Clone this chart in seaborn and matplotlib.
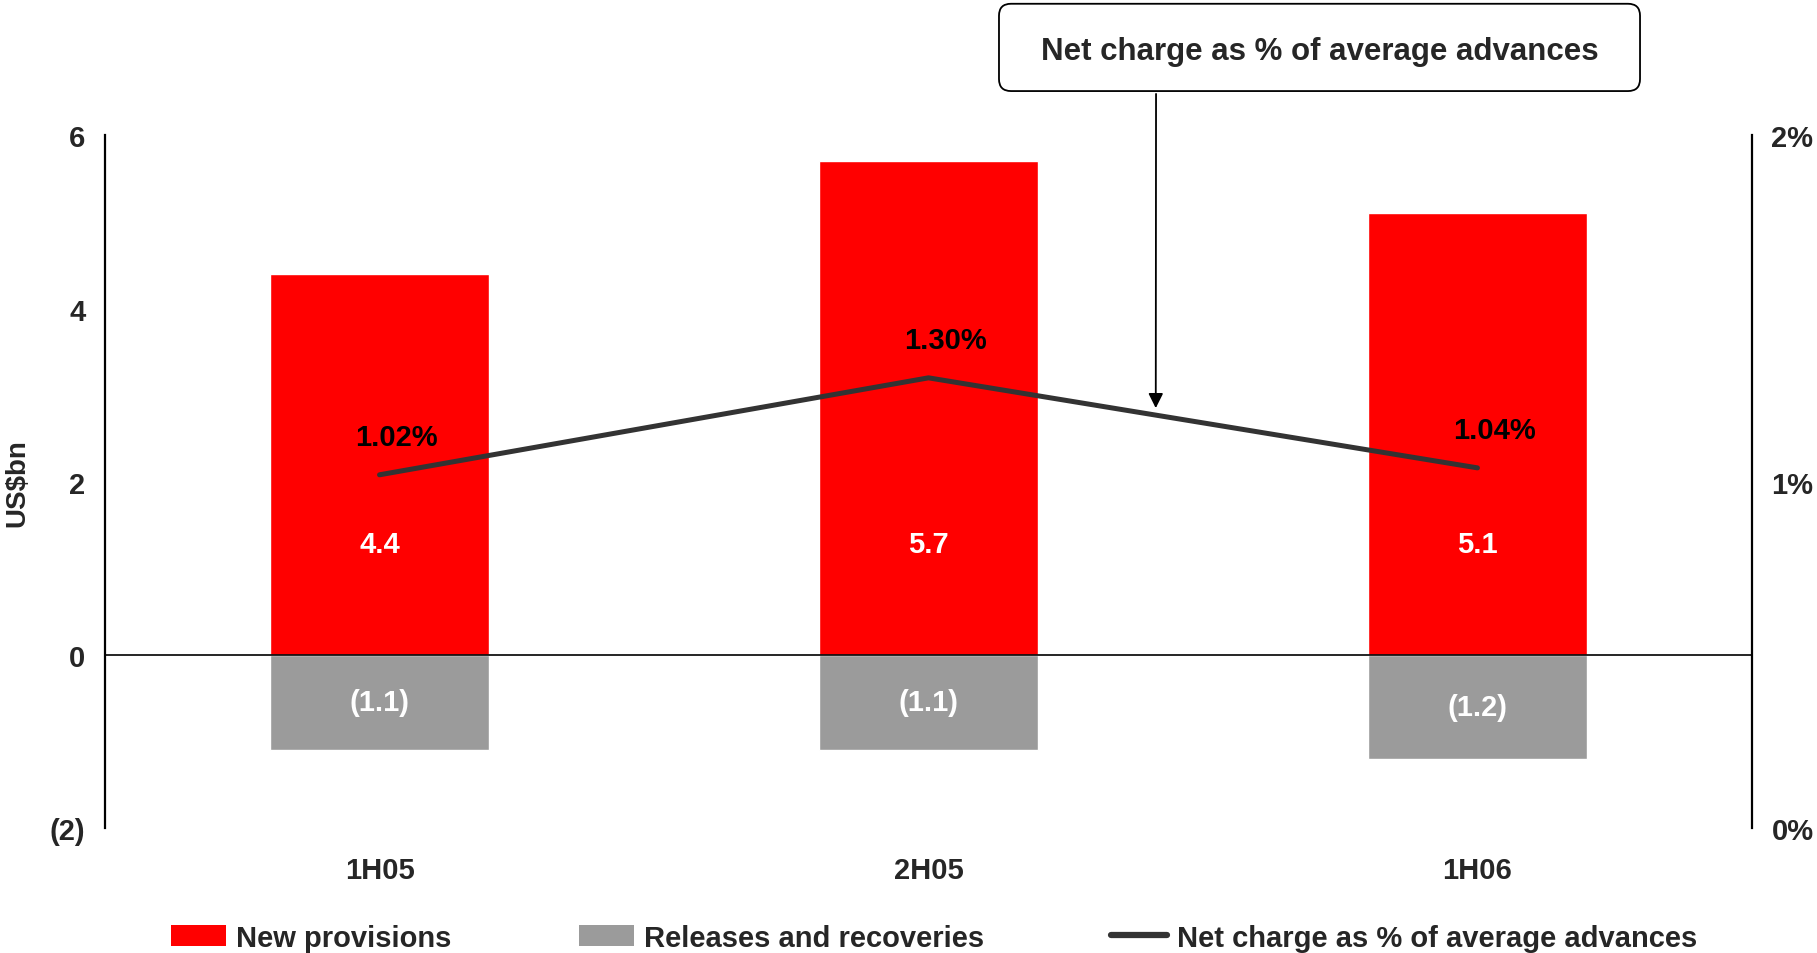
import numpy as np
import pandas as pd
import matplotlib
matplotlib.use("Agg")
import matplotlib.pyplot as plt
from matplotlib.patches import Patch, FancyBboxPatch
from matplotlib.lines import Line2D
import seaborn as sns

# Loan impairment charge by half-year (US$bn) and net charge ratio (%)
periods = ["1H05", "2H05", "1H06"]
new_provisions = [4.4, 5.7, 5.1]
releases_recoveries = [-1.1, -1.1, -1.2]
net_charge_pct = [1.02, 1.30, 1.04]

left_ticks = [-2, 0, 2, 4, 6]
left_tick_labels = ["(2)", "0", "2", "4", "6"]
right_ticks = [0, 1, 2]
right_tick_labels = ["0%", "1%", "2%"]

RED = "#FF0000"
GREY = "#9B9B9B"
LINE = "#333333"

sns.set_theme(style="white")
plt.rcParams["font.family"] = ["Liberation Sans", "DejaVu Sans"]
plt.rcParams["font.weight"] = "bold"

fig = plt.figure(figsize=(18.17, 9.54), dpi=100)
ax = fig.add_axes([0.0578, 0.131, 0.9064, 0.726])

df = pd.DataFrame({"period": periods, "new": new_provisions, "rel": releases_recoveries})
sns.barplot(data=df, x="period", y="new", color=RED, width=0.4, saturation=1, ax=ax)
sns.barplot(data=df, x="period", y="rel", color=GREY, width=0.4, saturation=1, ax=ax)

ax.set_xlim(-0.5, 2.5)
ax.set_ylim(-2, 6)
ax.set_yticks(left_ticks)
ax.set_yticklabels(left_tick_labels)
ax.set_xlabel("")
ax.set_ylabel("US$bn", fontsize=20, fontweight="bold", labelpad=14)
ax.axhline(0, color="black", lw=1.2, zorder=3)

for s in ["top", "bottom", "right"]:
    ax.spines[s].set_visible(False)
ax.spines["left"].set_color("black")
ax.spines["left"].set_linewidth(1.6)
ax.tick_params(axis="y", length=0, pad=14, labelsize=21)
ax.tick_params(axis="x", length=0, pad=20, labelsize=21)
for lbl in ax.get_xticklabels() + ax.get_yticklabels():
    lbl.set_fontweight("bold")

# Value labels inside the bars
for i, v in enumerate(new_provisions):
    ax.text(i, 1.28, f"{v:.1f}", color="white", fontsize=21, fontweight="bold",
            ha="center", va="center", zorder=4)
for i, v in enumerate(releases_recoveries):
    ax.text(i, v / 2, f"({abs(v):.1f})", color="white", fontsize=21, fontweight="bold",
            ha="center", va="center", zorder=4)

# Ratio line on the secondary axis
ax2 = ax.twinx()
sns.lineplot(x=np.arange(len(periods)), y=net_charge_pct, color=LINE, lw=3.6,
             sort=False, ax=ax2)
ax2.set_ylim(0, 2)
ax2.set_yticks(right_ticks)
ax2.set_yticklabels(right_tick_labels)
ax2.set_ylabel("")
for s in ["top", "bottom", "left"]:
    ax2.spines[s].set_visible(False)
ax2.spines["right"].set_color("black")
ax2.spines["right"].set_linewidth(1.6)
ax2.tick_params(axis="y", length=0, pad=14, labelsize=21)
for lbl in ax2.get_yticklabels():
    lbl.set_fontweight("bold")

for i, p in enumerate(net_charge_pct):
    ax2.annotate(f"{p:.2f}%", (i, p), xytext=(12, 27), textcoords="offset points",
                 ha="center", va="center", fontsize=21, fontweight="bold", color="black")

# Callout box with arrow pointing at the ratio line
bx, by, bw, bh = 0.5498, 0.9035, 0.3528, 0.0915
box = FancyBboxPatch((bx, by), bw, bh, boxstyle="round,pad=0,rounding_size=0.0066",
                     mutation_aspect=1817 / 954, transform=fig.transFigure,
                     facecolor="white", edgecolor="black", lw=1.3)
fig.patches.append(box)
fig.text(bx + bw / 2, by + bh / 2 - 0.004, "Net charge as % of average advances",
         ha="center", va="center", fontsize=22.5, fontweight="bold")
ax.annotate("", xy=(1.414, 2.85), xycoords="data",
            xytext=(bx + 0.245 * bw, by - 0.003), textcoords="figure fraction",
            arrowprops=dict(arrowstyle="-|>", color="black", lw=1.3,
                            shrinkA=0, shrinkB=0, mutation_scale=22))

# Legend along the bottom
handles = [
    Patch(facecolor=RED, edgecolor="none"),
    Patch(facecolor=GREY, edgecolor="none"),
    Line2D([0], [0], color=LINE, lw=4.5),
]
labels = ["New provisions", "Releases and recoveries", "Net charge as % of average advances"]
fig.legend(handles, labels, loc="center", bbox_to_anchor=(0.514, 0.016), ncol=3,
           frameon=False, handlelength=1.9, handleheight=0.72,
           handletextpad=0.35, columnspacing=4.35, borderpad=0,
           prop={"weight": "bold", "size": 21})

fig.savefig("out.png", dpi=100)
